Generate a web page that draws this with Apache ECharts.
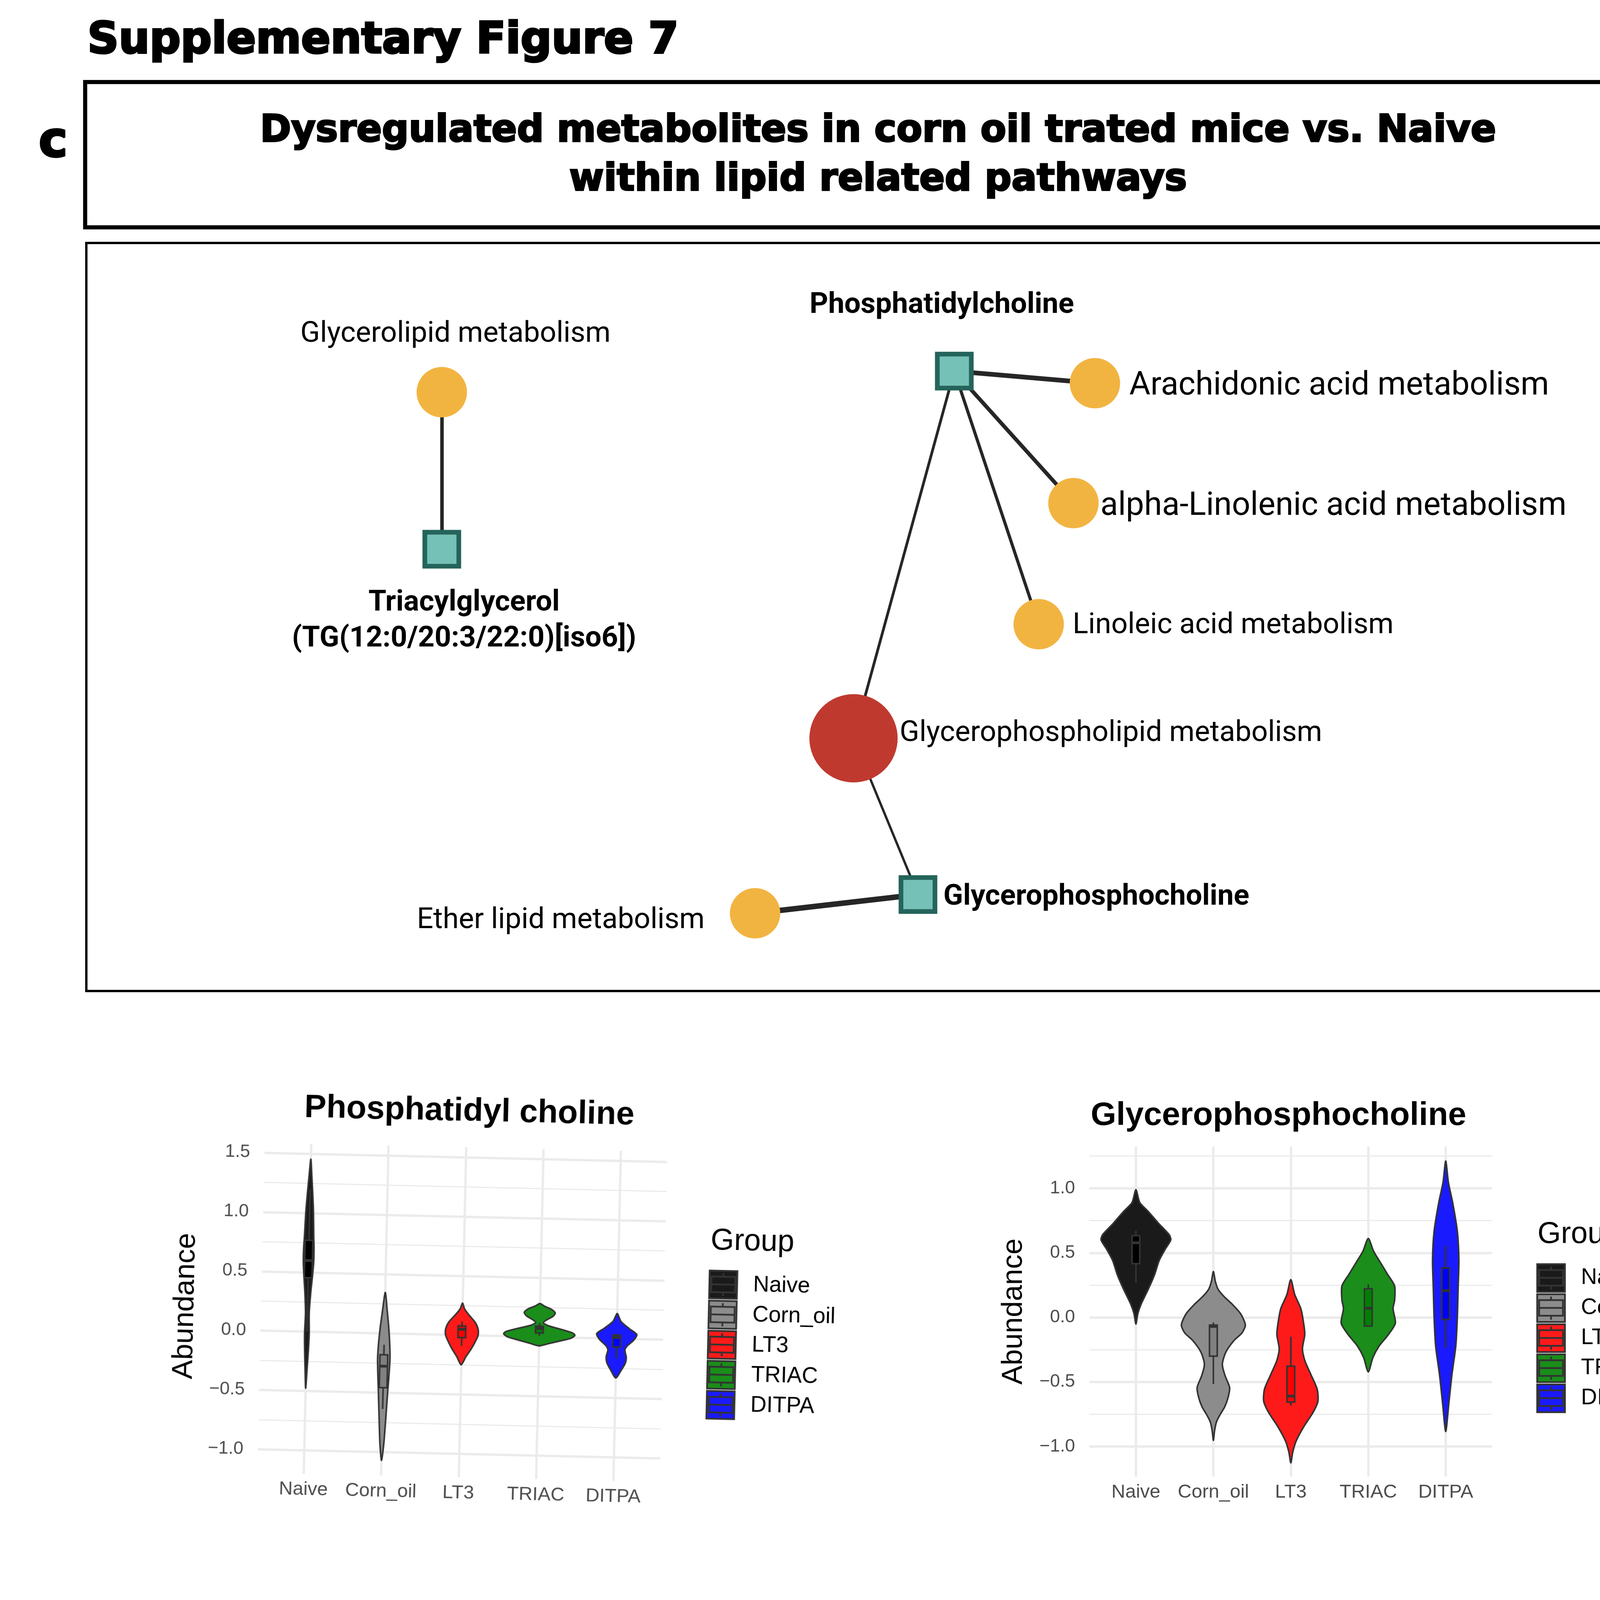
<!DOCTYPE html>
<html>
<head>
<meta charset="utf-8">
<script src="https://cdn.jsdelivr.net/npm/echarts@6/dist/echarts.min.js"></script>
<style>
html, body { margin:0; padding:0; background:#ffffff; width:4724px; height:6850px; overflow:hidden; }
#main { position:absolute; left:0; top:0; width:4724px; height:6850px; }
#pc { position:absolute; left:380px; top:2750px; width:1900px; height:1200px; transform:rotate(1.3deg); transform-origin:804px 610px; }
</style>
</head>
<body>
<div id="main"></div>
<div id="pc"></div>
<script>
// ---------------- data ----------------
const groups = ['Naive', 'Corn_oil', 'LT3', 'TRIAC', 'DITPA'];

const headerTitle = 'Supplementary Figure 7';
const panelLetter = 'c';
const boxTitle1 = 'Dysregulated metabolites in corn oil trated mice vs. Naive';
const boxTitle2 = 'within lipid related pathways';

const netNames = ['Glycerolipid metabolism', 'Triacylglycerol\n(TG(12:0/20:3/22:0)[iso6])', 'Phosphatidylcholine',
  'Arachidonic acid metabolism', 'alpha-Linolenic acid metabolism', 'Linoleic acid metabolism',
  'Glycerophospholipid metabolism', 'Glycerophosphocholine', 'Ether lipid metabolism'];
const netKind = ['pathway', 'metabolite', 'metabolite', 'pathway', 'pathway', 'pathway', 'hub', 'metabolite', 'pathway'];
const netLayout = [[1131, 1004], [1131, 1406], [2443, 950], [2803, 981], [2748, 1288], [2659, 1598], [2185, 1890], [2350, 2290], [1933, 2338]];
const netEdges = [[0, 1], [2, 3], [2, 4], [2, 5], [2, 6], [6, 7], [7, 8]];

const pcTitle = 'Phosphatidyl choline';
const gpcTitle = 'Glycerophosphocholine';
const tgTitle = 'TG(12:0/20:3/22:0)[iso6]';
const pcRange = [-1.198, 1.584];
const gpcRange = [-1.233, 1.324];
const tgRange = [-1.548, 1.203];
const pcTicks = [-1, -0.5, 0, 0.5, 1, 1.5];
const pcMinor = [-0.75, -0.25, 0.25, 0.75, 1.25];
const gpcTicks = [-1, -0.5, 0, 0.5, 1];
const gpcMinor = [-0.75, -0.25, 0.25, 0.75, 1.25];
const tgTicks = [-1.5, -1, -0.5, 0, 0.5, 1];
const tgMinor = [-1.25, -0.75, -0.25, 0.25, 0.75];

// violin outlines: [abundance, half width in category units], top to bottom
const pcViolins = [
  [[1.455,0],[1.31,0.018],[1.14,0.037],[0.996,0.05],[0.80,0.06],[0.707,0.067],[0.587,0.067],[0.467,0.055],[0.322,0.037],[0.154,0.024],[-0.015,0.03],[-0.16,0.024],[-0.33,0.012],[-0.478,0]],
  [[0.346,0],[0.194,0.03],[0.05,0.055],[-0.095,0.073],[-0.215,0.08],[-0.336,0.073],[-0.481,0.061],[-0.625,0.05],[-0.794,0.037],[-0.939,0.024],[-1.071,0]],
  [[0.27,0],[0.22,0.03],[0.17,0.09],[0.11,0.17],[0.05,0.21],[0.0,0.21],[-0.06,0.17],[-0.12,0.12],[-0.18,0.06],[-0.22,0.03],[-0.25,0]],
  [[0.282,0],[0.26,0.06],[0.235,0.15],[0.205,0.2],[0.175,0.17],[0.145,0.09],[0.12,0.05],[0.095,0.12],[0.065,0.3],[0.04,0.43],[0.02,0.46],[-0.005,0.41],[-0.03,0.27],[-0.055,0.12],[-0.075,0]],
  [[0.212,0],[0.147,0.05],[0.087,0.16],[0.038,0.26],[-0.01,0.22],[-0.058,0.14],[-0.095,0.11],[-0.155,0.13],[-0.203,0.12],[-0.263,0.07],[-0.331,0]]
];
const gpcViolins = [
  [[0.99,0],[0.89,0.05],[0.82,0.16],[0.73,0.29],[0.64,0.43],[0.60,0.45],[0.53,0.38],[0.44,0.30],[0.33,0.24],[0.219,0.16],[0.104,0.068],[0.03,0.025],[-0.052,0]],
  [[0.356,0],[0.28,0.025],[0.219,0.06],[0.16,0.14],[0.104,0.24],[0.03,0.35],[-0.058,0.413],[-0.12,0.37],[-0.18,0.265],[-0.27,0.16],[-0.363,0.116],[-0.45,0.15],[-0.544,0.21],[-0.62,0.19],[-0.695,0.145],[-0.75,0.09],[-0.81,0.04],[-0.88,0.015],[-0.953,0]],
  [[0.293,0],[0.178,0.05],[0.067,0.13],[-0.044,0.165],[-0.133,0.18],[-0.244,0.15],[-0.333,0.18],[-0.444,0.26],[-0.556,0.34],[-0.65,0.35],[-0.733,0.29],[-0.844,0.17],[-0.956,0.07],[-1.044,0.025],[-1.127,0]],
  [[0.611,0],[0.511,0.07],[0.422,0.16],[0.333,0.25],[0.244,0.34],[0.133,0.34],[0.067,0.32],[-0.044,0.35],[-0.133,0.26],[-0.222,0.14],[-0.311,0.06],[-0.422,0]],
  [[1.211,0],[1.044,0.035],[0.889,0.09],[0.667,0.15],[0.444,0.17],[0.222,0.16],[0.0,0.15],[-0.222,0.13],[-0.444,0.08],[-0.667,0.04],[-0.884,0]]
];
const tgViolins = [
  [[0.978,0],[0.88,0.075],[0.793,0.21],[0.683,0.36],[0.574,0.446],[0.509,0.456],[0.4,0.44],[0.29,0.38],[0.181,0.236],[0.072,0.095],[-0.037,0.02],[-0.146,0]],
  [[0.513,0],[0.4,0.034],[0.247,0.118],[0.094,0.186],[-0.037,0.214],[-0.168,0.223],[-0.3,0.262],[-0.474,0.292],[-0.561,0.292],[-0.692,0.242],[-0.823,0.16],[-0.954,0.08],[-1.085,0.024],[-1.216,0]],
  [[0.934,0],[0.793,0.024],[0.618,0.084],[0.465,0.145],[0.29,0.166],[0.138,0.12],[0.007,0.105],[-0.168,0.216],[-0.3,0.287],[-0.43,0.31],[-0.561,0.253],[-0.692,0.152],[-0.823,0.078],[-0.954,0.03],[-1.124,0]],
  [[1.081,0],[0.902,0.027],[0.727,0.059],[0.509,0.101],[0.29,0.127],[0.028,0.155],[-0.212,0.2],[-0.474,0.228],[-0.648,0.203],[-0.823,0.135],[-0.997,0.076],[-1.172,0.03],[-1.43,0]],
  [[0.264,0],[0.138,0.055],[0.007,0.16],[-0.124,0.245],[-0.255,0.275],[-0.474,0.295],[-0.692,0.282],[-0.823,0.245],[-0.954,0.16],[-1.085,0.076],[-1.194,0.024],[-1.3,0]]
];

// boxplot stats: [lower whisker, q1, median, q3, upper whisker]
const pcBoxes = [
  [0.0, 0.455, 0.6, 0.77, 1.2],
  [-0.637, -0.457, -0.276, -0.18, -0.095],
  [-0.09, -0.02, 0.05, 0.078, 0.115],
  [0.01, 0.034, 0.072, 0.09, 0.118],
  [-0.167, -0.07, 0.01, 0.03, 0.04]
];
const gpcBoxes = [
  [0.267, 0.416, 0.578, 0.633, 0.671],
  [-0.516, -0.3, -0.07, -0.06, -0.04],
  [-0.684, -0.656, -0.61, -0.378, -0.149],
  [-0.067, -0.067, 0.071, 0.222, 0.256],
  [-0.24, -0.016, 0.207, 0.382, 0.556]
];
const tgBoxes = [
  [0.203, 0.33, 0.439, 0.579, 0.629],
  [-0.675, -0.546, -0.415, -0.218, -0.026],
  [-0.485, -0.426, -0.369, -0.033, 0.297],
  [-0.67, -0.546, -0.343, -0.055, 0.323],
  [-0.812, -0.662, -0.507, -0.36, -0.223]
];

// ---------------- styles ----------------
const violinFill = ['#1A1A1A', '#8C8C8C', '#FF1A1A', '#1A8D1A', '#1A1AFF'];
const boxFill = ['#000000', '#808080', '#FF0000', '#008000', '#0000FF'];
const lineDark = '#333333';
const gridCol = '#EBEBEB';
const SANS = '"Liberation Sans", Arial, sans-serif';
const catPos = groups.map((g, i) => i + 1);
const netEdgeWidth = [9, 12, 10, 8, 7, 6, 14];
const netLabelPlace = [[35, -148, 'center', 74], [57, 184, 'center', 74], [-32, -168, 'center', 74], [88, 8, 'left', 83], [69, 9, 'left', 83], [87, 4, 'left', 74], [118, -12, 'left', 74], [65, 7, 'left', 74], [-129, 19, 'right', 74]];
const keyIcon = 'path://M0,0H71V71H0Z M5,15H66V55H5Z M5,35H66 M35.5,6V15 M35.5,55V65';

const tickFmt = v => (v < 0 ? '\u2212' : '') + Math.abs(v).toFixed(1);

function violinItem(profile, k) {
  return function (params, api) {
    const cx = api.value(0);
    const wlo = api.value(1), q1 = api.value(2), med = api.value(3), q3 = api.value(4), whi = api.value(5);
    const left = profile.map(p => api.coord([cx - p[1], p[0]]));
    const right = profile.slice(1, -1).reverse().map(p => api.coord([cx + p[1], p[0]]));
    const bw = 0.05;
    const tl = api.coord([cx - bw, q3]);
    const br = api.coord([cx + bw, q1]);
    const m1 = api.coord([cx - bw, med]);
    const m2 = api.coord([cx + bw, med]);
    const wt = api.coord([cx, whi]);
    const w3 = api.coord([cx, q3]);
    const w1 = api.coord([cx, q1]);
    const wb = api.coord([cx, wlo]);
    return {
      type: 'group',
      children: [
        { type: 'polygon', shape: { points: left.concat(right), smooth: 0.25 }, style: { fill: violinFill[k], stroke: lineDark, lineWidth: 4 } },
        { type: 'line', shape: { x1: wt[0], y1: wt[1], x2: w3[0], y2: w3[1] }, style: { stroke: lineDark, lineWidth: 4 } },
        { type: 'line', shape: { x1: w1[0], y1: w1[1], x2: wb[0], y2: wb[1] }, style: { stroke: lineDark, lineWidth: 4 } },
        { type: 'rect', shape: { x: tl[0], y: tl[1], width: br[0] - tl[0], height: br[1] - tl[1] }, style: { fill: boxFill[k], stroke: lineDark, lineWidth: 4 } },
        { type: 'line', shape: { x1: m1[0], y1: m1[1], x2: m2[0], y2: m2[1] }, style: { stroke: lineDark, lineWidth: 7 } }
      ]
    };
  };
}

function xAxisFor(gridIndex) {
  return {
    type: 'value', gridIndex, min: 0.4, max: 5.6, position: 'bottom',
    axisLine: { show: false },
    axisTick: { show: false, customValues: catPos },
    axisLabel: { customValues: catPos, formatter: v => groups[Math.round(v) - 1], fontFamily: SANS, fontSize: 49, color: '#4D4D4D', margin: 16 },
    splitLine: { show: true, lineStyle: { color: gridCol, width: 6 } }
  };
}
function yMajorFor(gridIndex, range, ticks) {
  return {
    type: 'value', gridIndex, min: range[0], max: range[1], position: 'left',
    axisLine: { show: false },
    axisTick: { show: false, customValues: ticks },
    axisLabel: { customValues: ticks, formatter: tickFmt, fontFamily: SANS, fontSize: 46, color: '#4D4D4D', margin: 37 },
    splitLine: { show: true, lineStyle: { color: gridCol, width: 6 } },
    name: 'Abundance', nameLocation: 'middle', nameGap: 156,
    nameTextStyle: { fontFamily: SANS, fontSize: 74, color: '#000000' }
  };
}
function yMinorFor(gridIndex, range, ticks) {
  return {
    type: 'value', gridIndex, min: range[0], max: range[1], position: 'right',
    axisLine: { show: false },
    axisTick: { show: false, customValues: ticks },
    axisLabel: { show: false },
    splitLine: { show: true, lineStyle: { color: gridCol, width: 3 } }
  };
}
function violinSeries(xAxisIndex, yAxisIndex, profiles, boxes) {
  return groups.map((g, k) => ({
    type: 'custom', name: g, xAxisIndex, yAxisIndex, silent: true, z: 3,
    itemStyle: { color: violinFill[k] },
    encode: { x: 0, y: [1, 2, 3, 4, 5] },
    data: [[k + 1].concat(boxes[k])],
    renderItem: violinItem(profiles[k], k)
  }));
}
function legendAt(left, top) {
  return {
    left, top, orient: 'vertical', padding: 0, itemGap: 1.5, itemWidth: 71, itemHeight: 71, selectedMode: false,
    textStyle: { fontFamily: SANS, fontSize: 57, color: '#000000', padding: [0, 0, 0, 36], lineHeight: 71 },
    data: groups.map((g, k) => ({ name: g, icon: keyIcon, itemStyle: { color: violinFill[k], borderColor: lineDark, borderWidth: 4.5 } }))
  };
}
function txt(x, y, text, font, align, heavy) {
  const style = { text, font, fill: '#000000', align, textAlign: align, verticalAlign: 'middle', textVerticalAlign: 'middle' };
  if (heavy) { style.stroke = '#000000'; style.lineWidth = heavy; }
  return { type: 'text', x, y, silent: true, style };
}

// ---------------- main chart ----------------
const main = echarts.init(document.getElementById('main'), null, { renderer: 'canvas', width: 4724, height: 6850 });

const netSeries = {
  type: 'graph', coordinateSystem: 'cartesian2d', xAxisIndex: 0, yAxisIndex: 0, layout: 'none', silent: true, z: 3,
  emphasis: { disabled: true },
  lineStyle: { color: '#262626', opacity: 1, curveness: 0 },
  data: netNames.map((n, i) => {
    const kind = netKind[i];
    const lp = netLabelPlace[i];
    return {
      name: n, value: netLayout[i],
      symbol: kind === 'metabolite' ? 'rect' : 'circle',
      symbolSize: kind === 'metabolite' ? 87 : (kind === 'hub' ? 226 : 129),
      itemStyle: kind === 'metabolite'
        ? { color: '#76C1B7', borderColor: '#24645A', borderWidth: 12 }
        : { color: kind === 'hub' ? '#C0392F' : '#F2B441', borderWidth: 0 },
      label: {
        show: true, position: 'inside', offset: [lp[0], lp[1]], align: lp[2], verticalAlign: 'middle',
        fontFamily: 'Roboto', fontSize: lp[3], lineHeight: 92, color: '#000000',
        fontWeight: kind === 'metabolite' ? 'bold' : 'normal', formatter: '{b}'
      }
    };
  }),
  links: netEdges.map((e, i) => ({ source: e[0], target: e[1], lineStyle: { width: netEdgeWidth[i] } }))
};

main.setOption({
  animation: false,
  backgroundColor: '#ffffff',
  grid: [
    { left: 0, top: 0, width: 4724, height: 6850, outerBoundsMode: 'none', containLabel: false },
    { left: 2789, top: 2935, width: 1031, height: 845, outerBoundsMode: 'none', containLabel: false },
    { left: 654, top: 4325, width: 1031, height: 844, outerBoundsMode: 'none', containLabel: false }
  ],
  xAxis: [
    { type: 'value', gridIndex: 0, min: 0, max: 4724, show: false },
    xAxisFor(1),
    xAxisFor(2)
  ],
  yAxis: [
    { type: 'value', gridIndex: 0, min: 0, max: 6850, inverse: true, show: false },
    yMajorFor(1, gpcRange, gpcTicks),
    yMinorFor(1, gpcRange, gpcMinor),
    yMajorFor(2, tgRange, tgTicks),
    yMinorFor(2, tgRange, tgMinor)
  ],
  legend: [legendAt(3933, 3234), legendAt(1798, 4624)],
  graphic: [
    txt(224, 106, headerTitle, 'bold 111px "DejaVu Sans"', 'left', 5),
    txt(136, 368, panelLetter, 'bold 125px "DejaVu Sans"', 'center', 5),
    { type: 'rect', silent: true, shape: { x: 218, y: 210, width: 4323, height: 372 }, style: { fill: 'none', stroke: '#000000', lineWidth: 10.5 } },
    txt(2248, 337, boxTitle1, 'bold 96px "DejaVu Sans"', 'center', 4),
    txt(2248, 462, boxTitle2, 'bold 96px "DejaVu Sans"', 'center', 4),
    { type: 'rect', silent: true, shape: { x: 221, y: 622, width: 4324, height: 1915 }, style: { fill: 'none', stroke: '#000000', lineWidth: 6 } },
    txt(3273, 2857, gpcTitle, 'bold 84px "Liberation Sans"', 'center'),
    txt(1189, 4242, tgTitle, 'bold 84px "Liberation Sans"', 'center'),
    txt(3936, 3161, 'Group', '77px "Liberation Sans"', 'left'),
    txt(1801, 4551, 'Group', '77px "Liberation Sans"', 'left')
  ],
  series: [netSeries]
    .concat(violinSeries(1, 1, gpcViolins, gpcBoxes))
    .concat(violinSeries(2, 3, tgViolins, tgBoxes))
});

// ---------------- phosphatidyl choline panel (slightly rotated in the reference) ----------------
const pc = echarts.init(document.getElementById('pc'), null, { renderer: 'canvas', width: 1900, height: 1200 });
pc.setOption({
  animation: false,
  grid: [{ left: 288, top: 187, width: 1031, height: 845, outerBoundsMode: 'none', containLabel: false }],
  xAxis: [xAxisFor(0)],
  yAxis: [yMajorFor(0, pcRange, pcTicks), yMinorFor(0, pcRange, pcMinor)],
  legend: [legendAt(1432, 486)],
  graphic: [
    txt(810, 96, pcTitle, 'bold 84px "Liberation Sans"', 'center'),
    txt(1435, 413, 'Group', '77px "Liberation Sans"', 'left')
  ],
  series: violinSeries(0, 0, pcViolins, pcBoxes)
});
</script>
</body>
</html>
